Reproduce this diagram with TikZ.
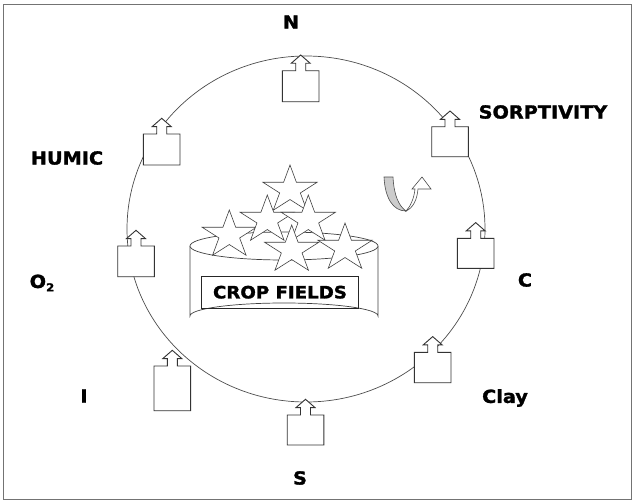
\documentclass[tikz,border=0pt]{standalone}
\usepackage{fontspec}
\setmainfont{DejaVu Sans}
\newfontfamily\lblfont[FakeStretch=1.07, FakeBold=1.6]{DejaVu Sans Bold}
\begin{document}
\begin{tikzpicture}[x=1pt,y=-1pt,
  lbl/.style={font=\lblfont\fontsize{18}{20}\selectfont, inner sep=0pt},
  boxline/.style={draw=black!80, line width=0.9pt, fill=white, line join=miter},
  pics/upbox/.style args={#1}{code={
    \draw[boxline] (-18.3,#1) -- (-18.3,0) -- (-5,0) -- (-5,-7.4) -- (-9.5,-7.4) -- (0,-15.7)
      -- (9.5,-7.4) -- (5,-7.4) -- (5,0) -- (18.3,0) -- (18.3,#1) -- cycle;
  }},
  pics/starpic/.style={code={
    \draw[draw=black!75, line width=0.6pt, fill=white, x=28.5pt, y=-25pt]
      (0,-1) -- (0.2245,-0.309) -- (0.951,-0.309) -- (0.363,0.118) -- (0.588,0.809)
      -- (0,0.382) -- (-0.588,0.809) -- (-0.363,0.118) -- (-0.951,-0.309) -- (-0.2245,-0.309) -- cycle;
  }}]
\useasboundingbox (0,0) rectangle (634,503);
\draw[black!55, line width=0.8pt] (3,4) rectangle (631,499);

% ring
\draw[black!70, line width=0.7pt] (306,229) ellipse [x radius=179, y radius=173];

% boxes with arrows
\pic (bN) at (300.7,70.7) {upbox={31}};
\pic (bSo) at (450,126.7) {upbox={30}};
\pic (bH) at (161.7,134) {upbox={31}};
\pic (bO) at (136,246) {upbox={30.7}};
\pic (bC) at (475.7,238.3) {upbox={30}};
\pic (bCl) at (432.7,352.3) {upbox={30.4}};
\pic (bI) at (172.3,366) {upbox={44.7}};
\pic (bS) at (305.5,415) {upbox={30}};

% labels
\node[lbl] (lN) at (291,22) {N};
\node[lbl] (lSo) at (543,112) {SORPTIVITY};
\node[lbl] (lH) at (67,158) {HUMIC};
\node[lbl] (lO) at (42,283) {O\raisebox{-0.35ex}{\fontsize{11}{12}\selectfont 2}};
\node[lbl] (lC) at (525,280) {C};
\node[lbl] (lCl) at (505,398) {Clay};
\node[lbl] (lI) at (84,396) {I};
\node[lbl] (lS) at (300,478) {S};

% cylinder
\draw[black!75, line width=0.7pt, fill=white]
  (190,246) -- (190,316) arc[start angle=180, end angle=360, x radius=94, y radius=13] -- (378,246);
\draw[black!75, line width=0.7pt, fill=white] (284,246) ellipse [x radius=94, y radius=14];
\node[draw=black!85, line width=0.8pt, minimum width=156.6pt, minimum height=32.3pt, inner sep=0pt,
  font=\lblfont\fontsize{17}{20}\selectfont] (crop) at (280,292.2) {CROP FIELDS};

% stars
\pic (s1) at (290,190) {starpic};
\pic (s2) at (229.3,235) {starpic};
\pic (s3) at (267.3,220) {starpic};
\pic (s4) at (308.3,220) {starpic};
\pic (s5) at (291.7,250) {starpic};
\pic (s6) at (345,248) {starpic};

% U-turn arrow
\draw[black!70, line width=0.6pt, fill=black!20]
  (384,177) -- (393,177) .. controls (394,196) and (399,206) .. (406,211)
  .. controls (393,211) and (385,198) .. (384,177) -- cycle;
\draw[black!70, line width=0.6pt, fill=white]
  (406,211) .. controls (413,208) and (417,200) .. (418,189) -- (431,189) -- (422,177)
  -- (412,189) -- (415,189) .. controls (414,199) and (410,207) .. (406,211) -- cycle;
\end{tikzpicture}
\end{document}
